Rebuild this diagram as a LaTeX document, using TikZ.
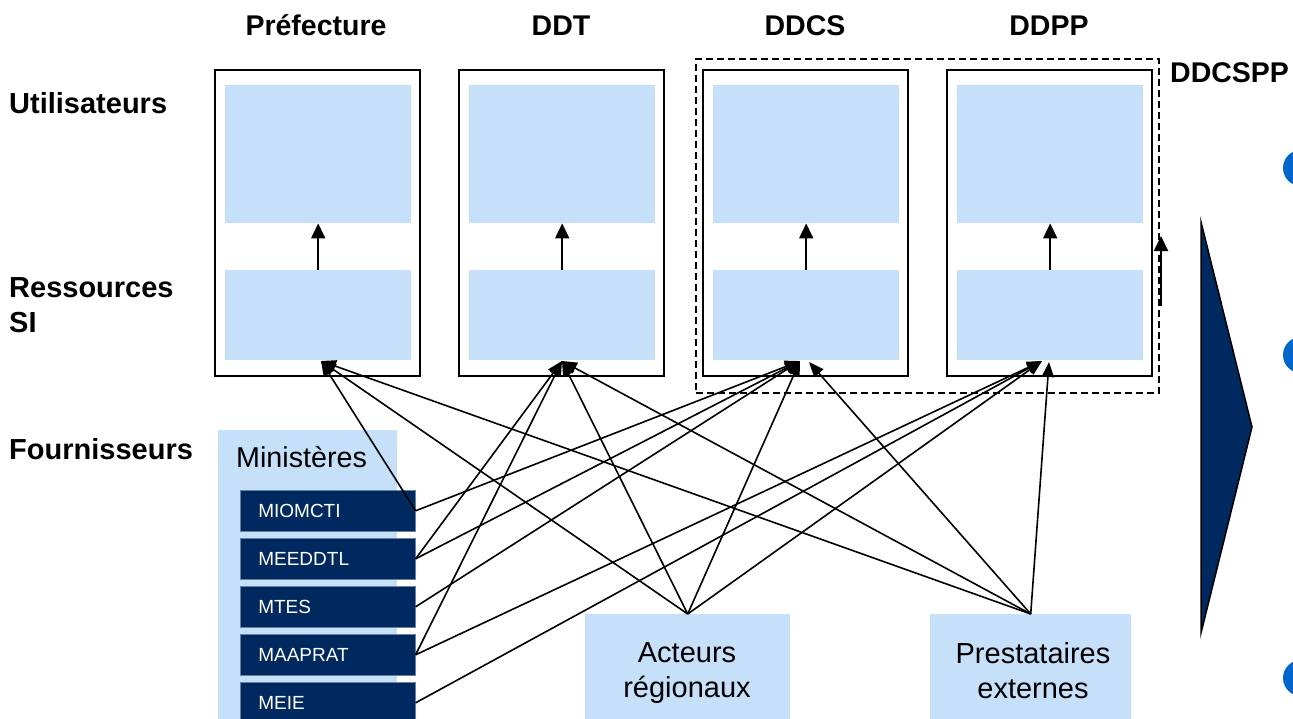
\documentclass[tikz,border=0pt]{standalone}
\usepackage{fontspec}
\setmainfont{Liberation Sans}
\usetikzlibrary{arrows.meta}
\definecolor{lblue}{RGB}{198,224,250}
\definecolor{navy}{RGB}{0,41,96}
\definecolor{cblue}{RGB}{0,102,204}
\begin{document}
\begin{tikzpicture}[x=1pt,y=-1pt,
  hdr/.style={font=\fontsize{28.5}{35}\selectfont\bfseries, inner sep=0pt},
  rowlbl/.style={font=\fontsize{29}{35}\selectfont\bfseries, inner sep=0pt, align=left},
  outerbox/.style={draw=black, line width=2pt, minimum width=205pt, minimum height=306pt, inner sep=0pt, anchor=north west},
  upbox/.style={fill=lblue, minimum width=186pt, minimum height=138pt, inner sep=0pt, anchor=north west},
  lowbox/.style={fill=lblue, minimum width=186pt, minimum height=90pt, inner sep=0pt, anchor=north west},
  innerarrow/.style={line width=1.8pt, -{Triangle[length=15pt,width=14pt]}},
  conn/.style={line width=1.6pt, -{Triangle[length=15pt,width=12pt]}},
  mbox/.style={fill=navy, draw=navy!60!white, line width=0.6pt, text=white, anchor=north west,
     minimum height=41pt, text width=139pt, inner xsep=18pt, inner ysep=0pt, align=left,
     font=\fontsize{19}{22}\selectfont},
  supbox/.style={fill=lblue, inner sep=0pt, anchor=north west},
  suptext/.style={font=\fontsize{29}{35}\selectfont, inner sep=0pt, align=center, anchor=north},
  dashbox/.style={draw=black, line width=1.5pt, dash pattern=on 7pt off 4pt, inner sep=0pt, anchor=north west, minimum width=463pt, minimum height=334pt}
]
\useasboundingbox (0,0) rectangle (1293,718);

% column headers
\node[hdr, anchor=base] (hP) at (316,35) {Préfecture};
\node[hdr, anchor=base] (hT) at (561,35) {DDT};
\node[hdr, anchor=base] (hC) at (805,35) {DDCS};
\node[hdr, anchor=base] (hD) at (1049,35) {DDPP};
\node[hdr, anchor=base west] (hCD) at (1170,82) {DDCSPP};

% row labels
\node[rowlbl, anchor=base west] (rU) at (9,113) {Utilisateurs};
\node[rowlbl, anchor=north west] (rR) at (9,277.5) {Ressources\\SI};
\node[rowlbl, anchor=base west] (rF) at (9,459) {Fournisseurs};

% DDCSPP dashed frame
\node[dashbox] (ddcspp) at (695,58) {};

% service boxes
\foreach \i/\n in {0/P,1/T,2/C,3/D}{
  \node[outerbox] (o\n) at (214+244*\i,69) {};
  \node[upbox] (up\n) at (225+244*\i,85) {};
  \node[lowbox] (lo\n) at (225+244*\i,270) {};
  \draw[innerarrow] (lo\n.north) -- (up\n.south);
}

% extra arrow beside DDCSPP
\coordinate (xa1) at (1161,306);
\coordinate (xa2) at (1161,236);
\draw[innerarrow] (xa1) -- (xa2);

% arrow targets
\coordinate (tP) at (321,361);
\coordinate (tT) at (562,361);
\coordinate (tC) at (800,361);
\coordinate (tC2) at (809,362);
\coordinate (tD) at (1042,361);
\coordinate (tD2) at (1049,362);

% suppliers
\node[supbox, minimum width=179pt, minimum height=300pt] (min) at (218,430) {};
\node[font=\fontsize{28.7}{34}\selectfont, inner sep=0pt, anchor=base west] (minT) at (236,467) {Ministères};
\node[mbox] (miomcti) at (240,490) {MIOMCTI};
\node[mbox] (meeddtl) at (240,538) {MEEDDTL};
\node[mbox] (mtes) at (240,586) {MTES};
\node[mbox] (maaprat) at (240,634) {MAAPRAT};
\node[mbox] (meie) at (240,682) {MEIE};

\node[supbox, minimum width=205pt, minimum height=110pt] (act) at (585,614) {};
\node[suptext] (actT) at (687,642) {Acteurs\\régionaux};
\node[supbox, minimum width=201pt, minimum height=110pt] (pre) at (930,614) {};
\node[suptext] (preT) at (1033,642) {Prestataires\\externes};

% connectors
\draw[conn] (miomcti.east) -- (tP);
\draw[conn] (miomcti.east) -- (tC);
\draw[conn] (meeddtl.east) -- (tT);
\draw[conn] (meeddtl.east) -- (tC);
\draw[conn] (mtes.east) -- (tC);
\draw[conn] (maaprat.east) -- (tT);
\draw[conn] (maaprat.east) -- (tD);
\draw[conn] (meie.east) -- (tD);
\draw[conn] (act.north) -- (tP);
\draw[conn] (act.north) -- (tT);
\draw[conn] (act.north) -- (tC);
\draw[conn] (act.north) -- (tD);
\draw[conn] (pre.north) -- (tP);
\draw[conn] (pre.north) -- (tT);
\draw[conn] (pre.north) -- (tC2);
\draw[conn] (pre.north) -- (tD2);

% big chevron
\filldraw[fill=navy, draw=black, line width=1.5pt] (1201,222) -- (1252,427) -- (1201,633) -- cycle;

% blue bullets at right edge
\fill[cblue] (1301,168) circle (18pt);
\fill[cblue] (1301,355) circle (18pt);
\fill[cblue] (1301,678) circle (18pt);
\end{tikzpicture}
\end{document}
